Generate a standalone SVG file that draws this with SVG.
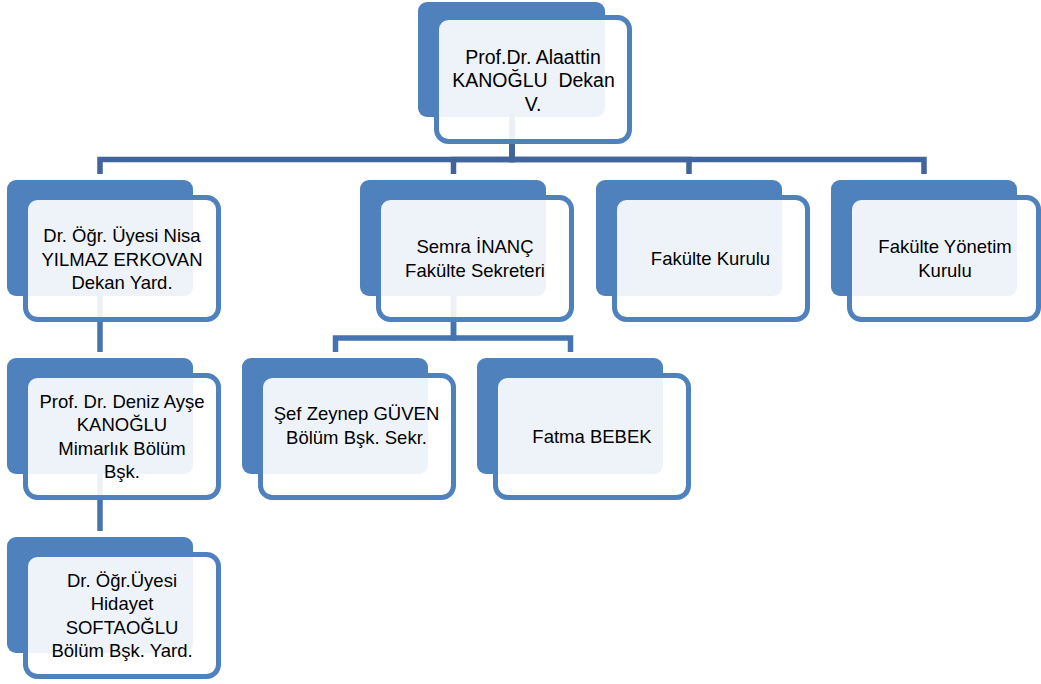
<svg xmlns="http://www.w3.org/2000/svg" width="1041" height="684" viewBox="0 0 1041 684">
<style>
.back{fill:#4F81BD;}
.front{fill:#FFFFFF;fill-opacity:0.9;stroke:#4F81BD;stroke-width:5;}
.main{fill:none;stroke:#41659B;stroke-width:5.5;}
.sub{fill:none;stroke:#4674B0;stroke-width:5.5;}
text{font-family:"Liberation Sans",Arial,sans-serif;font-size:18.5px;fill:#000;text-anchor:middle;}
.big{font-size:19.5px;}
</style>
<rect width="1041" height="684" fill="#FFFFFF"/>
<g id="connectors">
<path class="main" d="M512,117 V159.5 H100 V174"/>
<path class="main" d="M512,117 V159.5 H453.5 V174"/>
<path class="main" d="M512,117 V159.5 H689 V174"/>
<path class="main" d="M512,117 V159.5 H924 V174"/>
<path class="sub" d="M100,296 V352"/>
<path class="sub" d="M100,474 V531"/>
<path class="sub" d="M453.5,296 V338 H335.5 V352"/>
<path class="sub" d="M453.5,296 V338 H570.5 V352"/>
</g>
<g id="dekan">
<rect class="back" x="418" y="2" width="187" height="115" rx="9"/>
<rect class="front" x="436.5" y="17.5" width="193" height="124" rx="12"/>
<text class="big" x="533" y="63.6">Prof.Dr. Alaattin</text>
<text class="big" x="533.5" y="87.1" xml:space="preserve">KANOĞLU  Dekan</text>
<text class="big" x="533" y="110.6">V.</text>
</g>
<g id="dekan-yard">
<rect class="back" x="7" y="180" width="186" height="116" rx="9"/>
<rect class="front" x="25.5" y="197.5" width="193" height="122" rx="12"/>
<text x="122" y="242">Dr. Öğr. Üyesi Nisa</text>
<text x="122" y="265.5">YILMAZ ERKOVAN</text>
<text x="122" y="289">Dekan Yard.</text>
</g>
<g id="bolum-bsk">
<rect class="back" x="7" y="358" width="186" height="116" rx="9"/>
<rect class="front" x="25.5" y="375.5" width="193" height="122" rx="12"/>
<text x="122" y="407.5">Prof. Dr. Deniz Ayşe</text>
<text x="122" y="431.2">KANOĞLU</text>
<text x="122" y="454.9">Mimarlık Bölüm</text>
<text x="122" y="478.4">Bşk.</text>
</g>
<g id="bolum-bsk-yard">
<rect class="back" x="7" y="537" width="186" height="116" rx="9"/>
<rect class="front" x="25.5" y="554.5" width="193" height="122" rx="12"/>
<text x="122" y="587">Dr. Öğr.Üyesi</text>
<text x="122" y="610.4">Hidayet</text>
<text x="122" y="633.9">SOFTAOĞLU</text>
<text x="122" y="657.4">Bölüm Bşk. Yard.</text>
</g>
<g id="fakulte-sekreteri">
<rect class="back" x="360" y="180" width="186" height="116" rx="9"/>
<rect class="front" x="378.5" y="197.5" width="193" height="122" rx="12"/>
<text x="475" y="253">Semra İNANÇ</text>
<text x="475" y="276.8">Fakülte Sekreteri</text>
</g>
<g id="fakulte-kurulu">
<rect class="back" x="596" y="180" width="186" height="116" rx="9"/>
<rect class="front" x="614.5" y="197.5" width="193" height="122" rx="12"/>
<text x="710.5" y="265">Fakülte Kurulu</text>
</g>
<g id="fakulte-yonetim-kurulu">
<rect class="back" x="831" y="180" width="186" height="116" rx="9"/>
<rect class="front" x="849.5" y="197.5" width="189" height="122" rx="12"/>
<text x="945" y="253.3">Fakülte Yönetim</text>
<text x="945" y="276.8">Kurulu</text>
</g>
<g id="bolum-bsk-sekr">
<rect class="back" x="242" y="358" width="186" height="116" rx="9"/>
<rect class="front" x="260.5" y="375.5" width="193" height="122" rx="12"/>
<text x="356.5" y="420">Şef Zeynep GÜVEN</text>
<text x="356.5" y="443.5">Bölüm Bşk. Sekr.</text>
</g>
<g id="fatma-bebek">
<rect class="back" x="477" y="358" width="186" height="116" rx="9"/>
<rect class="front" x="495.5" y="375.5" width="193" height="122" rx="12"/>
<text x="592" y="443">Fatma BEBEK</text>
</g>
</svg>
